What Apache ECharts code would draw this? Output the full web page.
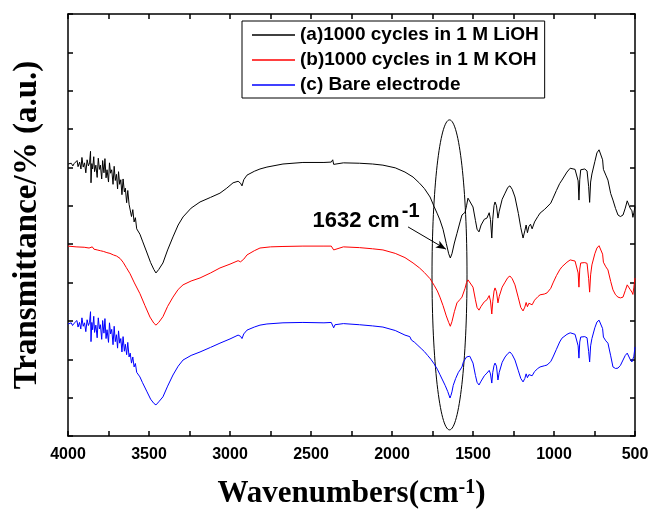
<!DOCTYPE html>
<html>
<head>
<meta charset="utf-8">
<script src="https://cdn.jsdelivr.net/npm/echarts@6/dist/echarts.min.js"></script>
<style>
  html, body { margin: 0; padding: 0; background: #fff; }
  #main { width: 651px; height: 511px; }
</style>
</head>
<body>
<div id="main"></div>
<script>
// legend names
var seriesNames = ['(a)1000 cycles in 1 M LiOH', '(b)1000 cycles in 1 M KOH', '(c) Bare electrode'];

// x ticks (cm-1) and y range (arbitrary units)
var xTicks = [4000, 3500, 3000, 2500, 2000, 1500, 1000, 500];
var yRange = [0, 110];

// [wavenumber, transmittance a.u.]
var lioh = [
  [4000,70.9],[3990,70.7],[3980,71.1],[3970,70.4],[3962,71.0],[3952,70.6],[3944,71.8],[3938,70.2],[3928,71.4],[3920,69.6],
  [3914,72.6],[3906,70.1],[3898,71.2],[3890,68.6],[3882,72.0],[3874,70.4],[3867,71.2],[3861,74.2],[3858,66.0],[3853,71.0],
  [3848,69.6],[3841,72.8],[3836,68.9],[3828,70.6],[3820,67.4],[3813,72.4],[3806,69.5],[3800,70.6],[3792,67.0],[3786,71.8],
  [3778,68.6],[3772,72.3],[3765,67.3],[3759,69.4],[3750,66.2],[3744,71.2],[3737,68.5],[3730,69.4],[3722,65.6],[3715,70.3],
  [3708,66.6],[3701,68.2],[3694,64.4],[3688,68.9],[3681,65.6],[3674,66.8],[3667,62.9],[3660,67.0],[3652,63.6],[3646,64.6],
  [3638,60.8],[3631,64.0],[3623,60.4],[3616,60.9],[3608,57.2],[3600,59.0],[3592,55.8],[3584,56.9],[3576,54.0],[3566,54.4],
  [3556,52.6],[3540,50.8],[3512,47.7],[3490,45.2],[3470,43.4],[3457,42.5],[3440,43.4],[3414,45.1],[3385,48.5],[3352,51.9],
  [3320,55.0],[3290,57.1],[3240,59.4],[3185,61.0],[3120,62.2],[3062,63.3],[3020,64.6],[2981,66.0],[2950,66.4],[2935,65.9],
  [2926,65.2],[2915,66.8],[2895,68.0],[2850,69.0],[2815,69.6],[2772,70.1],[2673,70.9],[2550,71.3],[2420,71.3],[2375,71.4],
  [2366,72.0],[2360,70.8],[2352,71.0],[2300,71.2],[2200,71.1],[2120,70.9],[2056,70.6],[1980,69.9],[1920,68.8],[1870,67.5],
  [1830,65.9],[1800,64.5],[1765,62.3],[1740,59.8],[1720,57.9],[1704,56.3],[1685,53.9],[1665,50.2],[1650,47.5],[1640,46.4],
  [1630,47.5],[1615,50.3],[1599,52.8],[1580,55.8],[1568,57.6],[1549,58.3],[1540,60.0],[1531,62.0],[1520,61.6],[1500,59.7],
  [1485,56.2],[1475,53.9],[1463,53.2],[1450,55.0],[1430,56.5],[1414,56.8],[1400,58.2],[1392,56.4],[1384,51.6],[1378,56.5],
  [1370,60.1],[1364,61.0],[1355,60.0],[1346,56.8],[1338,58.6],[1320,61.7],[1302,63.3],[1285,64.8],[1272,65.2],[1258,64.3],
  [1241,62.3],[1220,58.0],[1205,54.3],[1191,51.6],[1180,53.5],[1172,55.0],[1164,53.0],[1155,54.6],[1145,55.2],[1135,54.0],
  [1120,55.8],[1100,57.2],[1086,58.1],[1060,59.0],[1043,59.7],[1020,60.7],[1006,62.0],[985,64.0],[965,65.8],[951,66.7],
  [920,68.8],[900,69.8],[889,69.9],[870,69.5],[858,69.2],[851,66.5],[846,61.5],[841,66.8],[835,69.4],[827,69.6],
  [810,69.6],[796,69.1],[786,65.0],[780,60.9],[774,66.2],[766,68.3],[759,68.6],[748,71.5],[735,73.8],[722,74.6],
  [710,74.2],[700,72.0],[695,69.5],[680,68.0],[667,66.7],[650,63.2],[636,61.5],[620,59.3],[605,57.6],[590,57.2],
  [574,57.6],[560,59.4],[548,61.3],[540,61.0],[530,59.4],[519,58.7],[513,57.0],[507,58.2],[500,59.8]
];

var koh = [
  [4000,49.5],[3950,49.3],[3900,49.2],[3870,49.0],[3850,49.3],[3840,48.7],[3830,49.2],[3820,48.5],[3810,48.9],[3800,48.3],
  [3790,48.8],[3780,48.1],[3770,48.6],[3760,47.8],[3750,48.2],[3741,47.6],[3730,48.0],[3720,47.2],[3710,47.5],[3700,46.9],
  [3690,47.0],[3679,46.3],[3660,45.3],[3640,43.9],[3617,42.3],[3590,39.9],[3556,37.1],[3525,34.0],[3494,31.0],[3470,29.4],
  [3457,28.9],[3440,29.6],[3414,31.1],[3385,33.8],[3352,36.2],[3320,38.2],[3290,39.4],[3240,40.4],[3185,41.2],[3120,42.5],
  [3062,43.8],[3000,44.8],[2950,45.7],[2935,45.4],[2926,44.9],[2915,46.1],[2895,47.2],[2850,48.3],[2815,49.0],[2750,49.3],
  [2673,49.4],[2550,49.5],[2420,49.5],[2375,49.5],[2366,49.9],[2360,48.5],[2352,49.0],[2300,49.3],[2200,49.1],[2120,48.8],
  [2056,48.5],[1980,47.6],[1920,46.5],[1870,45.1],[1830,43.8],[1800,42.6],[1765,41.0],[1740,39.3],[1720,37.8],[1704,36.2],
  [1685,34.0],[1665,31.3],[1650,29.6],[1640,28.6],[1630,29.8],[1615,32.4],[1599,34.7],[1580,35.6],[1568,36.2],[1549,38.5],
  [1540,40.0],[1531,40.7],[1520,40.3],[1500,38.8],[1485,35.5],[1475,33.5],[1463,32.8],[1450,33.8],[1430,35.0],[1414,35.5],
  [1400,36.6],[1392,35.2],[1384,31.8],[1378,35.0],[1370,37.8],[1364,38.6],[1355,37.6],[1346,34.7],[1338,36.4],[1320,38.8],
  [1302,40.1],[1285,41.3],[1272,41.7],[1258,41.0],[1241,39.4],[1220,36.0],[1205,33.5],[1191,32.6],[1180,33.6],[1172,34.8],
  [1164,33.7],[1155,34.6],[1145,34.9],[1135,34.2],[1120,35.4],[1100,36.3],[1086,36.8],[1060,37.0],[1043,37.3],[1020,38.5],
  [1006,39.9],[985,41.8],[965,43.3],[951,44.1],[920,45.3],[900,45.9],[889,45.9],[870,45.6],[858,45.4],[851,42.5],
  [846,38.8],[841,43.5],[835,45.1],[827,45.1],[810,45.2],[796,45.0],[786,41.0],[780,37.5],[774,42.0],[766,44.6],
  [759,45.1],[748,47.5],[735,49.0],[722,49.6],[710,49.2],[700,47.4],[695,45.3],[680,44.1],[667,43.3],[650,40.3],
  [636,38.1],[620,36.8],[605,36.2],[590,36.0],[574,36.2],[560,37.9],[548,39.4],[540,39.2],[530,38.2],[519,37.5],
  [513,36.9],[507,38.8],[500,41.2]
];

var bare = [
  [4000,29.2],[3990,29.0],[3980,29.5],[3972,28.8],[3962,29.4],[3953,28.9],[3945,30.1],[3938,28.4],[3929,29.6],[3921,27.9],
  [3914,30.8],[3906,28.6],[3898,29.5],[3890,27.2],[3882,30.3],[3874,28.8],[3867,29.6],[3861,32.4],[3858,24.6],[3853,29.6],
  [3848,27.7],[3841,31.2],[3836,27.0],[3828,28.9],[3820,25.6],[3813,30.8],[3806,27.9],[3800,29.0],[3792,25.2],[3786,30.1],
  [3778,26.8],[3772,30.6],[3765,25.4],[3759,27.7],[3750,24.4],[3744,29.5],[3737,26.6],[3730,27.8],[3722,23.8],[3715,28.6],
  [3708,24.6],[3701,26.4],[3694,22.9],[3688,27.4],[3681,24.2],[3674,25.4],[3667,21.9],[3660,25.9],[3652,22.1],[3646,23.9],
  [3638,21.2],[3631,24.4],[3623,20.6],[3616,21.6],[3608,19.0],[3600,20.6],[3592,18.0],[3584,18.9],[3576,16.6],[3566,16.9],
  [3556,15.4],[3540,13.9],[3512,11.5],[3490,9.6],[3470,8.5],[3457,8.1],[3440,8.9],[3414,10.2],[3385,13.0],[3352,15.9],
  [3320,18.2],[3290,19.8],[3240,21.0],[3185,21.9],[3120,23.1],[3062,24.2],[3000,25.3],[2950,26.3],[2935,26.0],[2926,25.4],
  [2915,26.6],[2895,27.6],[2850,28.4],[2815,28.9],[2772,29.2],[2673,29.5],[2550,29.6],[2420,29.5],[2375,29.6],[2366,30.0],
  [2360,28.2],[2352,29.0],[2300,29.3],[2200,29.0],[2120,28.7],[2056,28.4],[1980,27.5],[1920,26.3],[1890,25.9],[1880,25.0],
  [1870,25.5],[1860,24.4],[1850,24.9],[1840,23.6],[1830,24.0],[1820,22.8],[1810,23.2],[1800,22.0],[1790,22.3],[1780,21.0],
  [1770,21.4],[1760,20.0],[1750,20.2],[1740,18.8],[1730,18.9],[1720,17.4],[1712,17.8],[1704,16.0],[1696,16.3],[1688,14.6],
  [1680,14.9],[1672,13.2],[1664,13.3],[1656,11.6],[1648,11.2],[1642,9.9],[1636,10.6],[1630,11.5],[1622,13.2],[1615,13.4],
  [1607,15.0],[1599,15.4],[1590,16.6],[1580,17.2],[1568,18.0],[1560,19.2],[1549,20.0],[1540,20.6],[1531,21.1],[1520,20.8],
  [1500,19.0],[1485,15.8],[1475,14.0],[1463,13.3],[1450,14.3],[1430,15.7],[1414,16.4],[1400,17.1],[1392,16.2],[1384,13.8],
  [1378,16.6],[1370,18.4],[1364,19.0],[1355,18.2],[1346,14.6],[1338,16.6],[1320,19.2],[1302,20.6],[1285,21.5],[1272,21.9],
  [1258,21.2],[1241,19.8],[1220,17.0],[1205,15.0],[1191,14.1],[1180,15.0],[1172,16.2],[1164,15.2],[1155,16.0],[1145,16.4],
  [1135,15.7],[1120,16.8],[1100,17.6],[1086,18.0],[1060,18.3],[1043,18.5],[1020,19.4],[1006,20.6],[985,22.6],[965,24.5],
  [951,25.5],[920,26.5],[900,26.9],[889,26.9],[870,26.5],[858,26.3],[851,23.5],[846,20.3],[841,24.5],[835,25.8],
  [827,25.8],[810,25.9],[796,25.6],[786,22.0],[780,19.3],[774,23.5],[766,25.4],[759,25.8],[748,28.2],[735,29.7],
  [722,30.2],[710,30.0],[700,28.0],[695,25.8],[680,24.8],[667,24.2],[650,20.9],[636,18.0],[620,17.6],[605,17.7],
  [590,18.4],[574,19.8],[560,21.0],[548,21.6],[540,21.2],[530,20.0],[519,19.3],[513,18.8],[507,20.8],[500,23.2]
];

// annotation anchors (data units)
var peakLabel = '1632 cm';
var ellipseCenter = [1645, 42.0];
var ellipseHalf = [108, 40.4];
var arrowFrom = [1901, 54.5];
var arrowTo = [1667, 48.7];

var sans = 'Liberation Sans, Arial, sans-serif';
var serif = 'Liberation Serif, Times New Roman, serif';

var chart = echarts.init(document.getElementById('main'));

function xAxisDef(pos, showLabel) {
  return {
    type: 'value', position: pos, inverse: true,
    min: xTicks[xTicks.length - 1], max: xTicks[0], interval: 500,
    axisLine: { show: true, onZero: false, lineStyle: { color: '#000', width: 1.5 } },
    axisTick: { show: true, inside: true, length: 5, lineStyle: { color: '#000', width: 1.5 } },
    minorTick: { show: true, splitNumber: 2, length: 5, lineStyle: { color: '#000', width: 1.5 } },
    splitLine: { show: false },
    axisLabel: {
      show: showLabel, color: '#000', fontFamily: sans, fontWeight: 'bold', fontSize: 16, margin: 11,
      formatter: function (v) { return String(v); }
    }
  };
}

function yAxisDef(pos) {
  return {
    type: 'value', position: pos, min: yRange[0], max: yRange[1], interval: 10,
    axisLine: { show: true, onZero: false, lineStyle: { color: '#000', width: 1.5 } },
    axisTick: { show: true, inside: true, length: 5, lineStyle: { color: '#000', width: 1.5 } },
    splitLine: { show: false },
    axisLabel: { show: false }
  };
}

var xBottom = xAxisDef('bottom', true);
xBottom.name = 'Wavenumbers(cm{sup|-1})';
xBottom.nameLocation = 'middle';
xBottom.nameGap = 42;
xBottom.nameTextStyle = {
  color: '#000', fontFamily: serif, fontWeight: 'bold', fontSize: 31,
  rich: { sup: { fontFamily: serif, fontWeight: 'bold', fontSize: 20, verticalAlign: 'top', color: '#000' } }
};
var xTop = xAxisDef('top', false);

var yLeft = yAxisDef('left');
yLeft.name = 'Transmittance/% (a.u.)';
yLeft.nameLocation = 'middle';
yLeft.nameRotate = 90;
yLeft.nameGap = 24;
yLeft.nameTextStyle = { color: '#000', fontFamily: serif, fontWeight: 'bold', fontSize: 33 };
var yRight = yAxisDef('right');

var option = {
  animation: false,
  backgroundColor: '#fff',
  grid: { left: 68, right: 16, top: 14, bottom: 75, outerBoundsMode: 'none', containLabel: false },
  legend: {
    data: seriesNames,
    orient: 'vertical',
    left: 242, top: 21,
    padding: [4, 6, 3, 10],
    itemGap: 5,
    icon: 'rect',
    itemWidth: 43, itemHeight: 1.5,
    borderColor: '#000', borderWidth: 1,
    textStyle: { color: '#000', fontFamily: sans, fontWeight: 'bold', fontSize: 19, lineHeight: 20 }
  },
  xAxis: [xBottom, xTop],
  yAxis: [yLeft, yRight],
  series: [
    {
      name: seriesNames[0], type: 'line', data: lioh, symbol: 'none',
      lineStyle: { color: '#000', width: 1 }, itemStyle: { color: '#000' },
      markLine: {
        silent: true, symbol: ['none', 'arrow'], symbolSize: [6, 10],
        label: { show: false },
        lineStyle: { color: '#000', width: 1, type: 'solid' },
        data: [[{ coord: arrowFrom }, { coord: arrowTo }]]
      }
    },
    {
      name: seriesNames[1], type: 'line', data: koh, symbol: 'none',
      lineStyle: { color: '#ff0000', width: 1 }, itemStyle: { color: '#ff0000' }
    },
    {
      name: seriesNames[2], type: 'line', data: bare, symbol: 'none',
      lineStyle: { color: '#0000ff', width: 1 }, itemStyle: { color: '#0000ff' }
    }
  ]
};

chart.setOption(option);

// ellipse and peak label, placed from data coordinates
var c = chart.convertToPixel({ seriesIndex: 0 }, ellipseCenter);
var e = chart.convertToPixel({ seriesIndex: 0 }, [ellipseCenter[0] - ellipseHalf[0], ellipseCenter[1] + ellipseHalf[1]]);
var t = chart.convertToPixel({ seriesIndex: 0 }, [2490, 56.0]);
var s = chart.convertToPixel({ seriesIndex: 0 }, [1940, 58.6]);

chart.setOption({
  graphic: [
    {
      type: 'ellipse', silent: true,
      shape: { cx: c[0], cy: c[1], rx: Math.abs(e[0] - c[0]), ry: Math.abs(c[1] - e[1]) },
      style: { fill: 'none', stroke: '#000', lineWidth: 1 }
    },
    {
      type: 'text', silent: true, x: t[0], y: t[1],
      style: { text: peakLabel, fill: '#000', font: 'bold 22px ' + sans, align: 'left', verticalAlign: 'middle' }
    },
    {
      type: 'text', silent: true, x: s[0], y: s[1],
      style: { text: '-1', fill: '#000', font: 'bold 20px ' + sans, align: 'left', verticalAlign: 'middle' }
    }
  ]
});
</script>
</body>
</html>
